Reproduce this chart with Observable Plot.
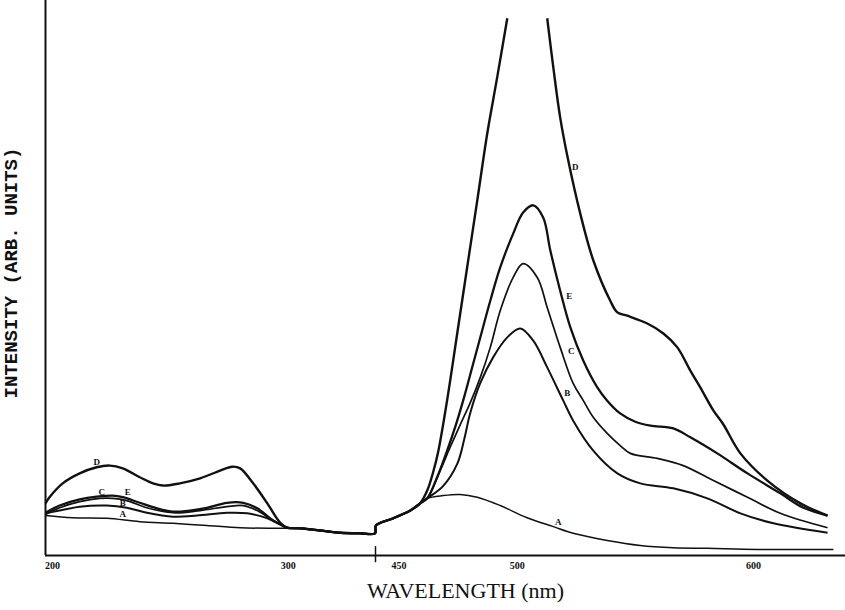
<!DOCTYPE html>
<html><head><meta charset="utf-8">
<script src="https://cdn.jsdelivr.net/npm/d3@7"></script>
<script src="https://cdn.jsdelivr.net/npm/@observablehq/plot@0.6"></script>
<style>body{margin:0;background:#fff}</style>
</head><body><div id="chart"></div>
<script>
// Broken wavelength axis: 197–337 nm, then 440–639 nm
const xBreakDomain = [197, 337, 440, 639];
const xTicks = [200, 300, 450, 500, 600];

// shared baseline between the two sections (all curves merge here)
const tailWave = [305.1, 313.6, 322.1, 330.6, 336.8, 440.2, 447.5, 454.7, 458.9];
const tailInt  = [4.9, 4.5, 4.1, 4.0, 4.0, 5.4, 6.7, 8.1, 9.4];

// Curve A
const aLeftWave  = [197, 208.5, 223, 237, 251.1, 265.5, 279.6, 293.6, 299.6];
const aLeftInt   = [7.2, 6.8, 6.7, 6.1, 5.8, 5.4, 5.0, 4.9, 4.9];
const aRightWave = [461.9, 468.6, 475.8, 483.1, 492.8, 504.2, 515.3, 523.7, 538.1, 552.1, 566.1, 580.5, 601.7, 633.9];
const aRightInt  = [10.3, 10.8, 11.0, 10.5, 9.0, 6.8, 5.2, 4.0, 2.7, 1.8, 1.4, 1.3, 1.1, 1.1];

// Curve B
const bLeftWave  = [197, 203, 211.5, 223, 231.5, 240, 251.1, 261.3, 274, 282.6, 291.1, 296.6, 299.6];
const bLeftInt   = [7.6, 8.1, 8.8, 9.0, 8.6, 7.7, 7.0, 7.2, 7.7, 7.6, 6.7, 5.6, 5.0];
const bRightWave = [461.9, 468.6, 474.6, 477.6, 480.0, 484.3, 489.8, 495.8, 501.3, 506.8, 512.7, 519.5, 523.7, 532.2, 542.4, 552.1, 566.1, 580.5, 594.5, 608.5, 631.4];
const bRightInt  = [10.3, 12.5, 16.5, 21.0, 25.5, 31.0, 35.7, 39.3, 40.9, 38.7, 33.9, 27.9, 24.3, 18.9, 14.8, 13.0, 12.1, 10.3, 7.6, 5.8, 4.1];

// Curve C
const cLeftWave  = [197, 203, 211.5, 220, 225.5, 231.5, 240, 251.1, 262.6, 274, 280.9, 286.8, 293.6, 297.9, 299.6];
const cLeftInt   = [7.4, 8.6, 9.7, 10.3, 10.3, 9.9, 8.6, 7.7, 8.1, 8.8, 9.0, 8.1, 6.3, 5.4, 5.0];
const cRightWave = [461.9, 467.4, 471.6, 475.8, 480.1, 484.3, 488.6, 492.8, 498.3, 502.5, 508.5, 512.7, 518.2, 523.7, 528, 532.2, 538.1, 543.6, 547.9, 559.3, 570.3, 583.1, 597.5, 611.4, 631.4];
const cRightInt  = [10.3, 15.3, 19.5, 23.5, 27.5, 32.0, 37.5, 44.1, 50.1, 52.6, 50.1, 44.7, 37.5, 31.0, 27.9, 24.9, 22.0, 19.8, 18.4, 17.5, 16.2, 13.5, 10.5, 7.6, 5.0];

// Curve E
const eLeftWave  = [197, 203, 211.5, 218.7, 225.5, 229.8, 237, 244.3, 251.1, 258.3, 265.5, 274, 280.9, 286.8, 293.6, 297.4, 299.6];
const eLeftInt   = [7.7, 9.0, 10.1, 10.6, 10.8, 10.5, 9.5, 8.5, 7.9, 8.1, 8.6, 9.5, 9.5, 8.5, 6.3, 5.4, 5.0];
const eRightWave = [461.9, 466, 470, 474, 477.5, 481, 484.5, 488.6, 492.8, 498.3, 502.5, 506.8, 511, 514, 518.2, 522.5, 528, 533.9, 538.1, 543.6, 550, 556.4, 566.1, 573.3, 584.7, 597.5, 611.4, 621.2, 631.4];
const eRightInt  = [10.3, 14.0, 18.5, 23.5, 28.5, 34.0, 39.5, 45.9, 51.9, 58.0, 61.8, 63.1, 60.9, 55.0, 47.7, 41.1, 35.1, 30.3, 27.9, 25.6, 24.1, 23.4, 22.9, 21.3, 18.4, 14.8, 11.2, 8.6, 7.2];

// Curve D (goes off scale at its peak: null = gap)
const dLeftWave  = [197, 198.7, 204.3, 211.5, 218.7, 224.3, 229.8, 237, 242.6, 246.8, 254, 262.6, 271.1, 276.2, 279.6, 285.1, 291.1, 296.6, 299.6];
const dLeftInt   = [9.4, 10.5, 13.0, 14.8, 15.9, 16.2, 15.7, 14.1, 13.0, 12.6, 13.0, 13.9, 15.3, 16.0, 15.7, 13.0, 9.4, 5.9, 5.0];
const dRightWave = [461.9, 464.4, 466.5, 470.3, 474.6, 478.8, 483.1, 487.3, 491.5, 495.8, 504, 512.7, 515.3, 518.2, 521.6, 526.7, 532.2, 539.4, 542.4, 546.6, 555.1, 561.9, 567.8, 573.3, 577.5, 583.1, 587.3, 594.5, 605.9, 619.9, 631.4];
const dRightInt  = [11.7, 15.0, 18.6, 27.9, 40.0, 51.9, 64.0, 76.0, 86.1, 96.8, null, 96.8, 87.9, 78.9, 71.2, 61.6, 53.2, 45.9, 43.8, 43.2, 41.8, 40.0, 37.5, 33.3, 30.3, 26.1, 23.6, 18.4, 13.5, 9.4, 7.2];

// curve letter labels
const labelText = ["D", "C", "E", "B", "A", "D", "E", "C", "B", "A"];
const labelWave = [218.7, 220.9, 231.9, 229.8, 229.8, 524.6, 522.0, 522.9, 521.2, 517.4];
const labelInt  = [16.9, 11.4, 11.4, 9.4, 7.4, 69.9, 46.8, 36.9, 29.2, 6.1];

const seriesDefs = [
  {name: "A", lw: aLeftWave, li: aLeftInt, rw: aRightWave, ri: aRightInt, sw: 1.5},
  {name: "B", lw: bLeftWave, li: bLeftInt, rw: bRightWave, ri: bRightInt, sw: 2},
  {name: "C", lw: cLeftWave, li: cLeftInt, rw: cRightWave, ri: cRightInt, sw: 1.7},
  {name: "E", lw: eLeftWave, li: eLeftInt, rw: eRightWave, ri: eRightInt, sw: 2.3},
  {name: "D", lw: dLeftWave, li: dLeftInt, rw: dRightWave, ri: dRightInt, sw: 2.4}
];

const rows = [];
for (const s of seriesDefs) {
  const w = [...s.lw, ...tailWave, ...s.rw];
  const v = [...s.li, ...tailInt, ...s.ri];
  w.forEach((x, i) => rows.push({series: s.name, wavelength: x, intensity: v[i]}));
}
const labels = labelText.map((t, i) => ({t, x: labelWave[i], y: labelInt[i]}));

const lineMarks = seriesDefs.map(s =>
  Plot.line(rows.filter(r => r.series === s.name), {
    x: "wavelength", y: "intensity", stroke: "#111", strokeWidth: s.sw,
    curve: "catmull-rom", strokeLinejoin: "round", strokeLinecap: "butt"
  })
);

const chart = Plot.plot({
  width: 845,
  height: 610,
  marginLeft: 45,
  marginRight: 0,
  marginTop: 0,
  marginBottom: 55,
  style: {fontFamily: "'Liberation Serif', serif", fontSize: "10px", fontWeight: "bold", background: "#fff", color: "#111"},
  x: {type: "linear", domain: xBreakDomain, range: [45, 375, 375, 845], ticks: xTicks, tickSize: 0, tickPadding: 6, tickFormat: d => String(d), label: null},
  y: {domain: [0, 100], range: [555, 0], axis: null},
  marks: [
    Plot.ruleY([0], {stroke: "#111", strokeWidth: 2}),
    Plot.ruleX([197], {y1: 0, y2: 100, stroke: "#111", strokeWidth: 2}),
    Plot.ruleX([337], {y1: -1.3, y2: 1.6, stroke: "#111", strokeWidth: 1.5}),
    ...lineMarks,
    Plot.text(labels, {x: "x", y: "y", text: "t", fontSize: 9, fontWeight: "bold", fill: "#111"}),
    Plot.text(["WAVELENGTH (nm)"], {frameAnchor: "bottom", dx: 20, dy: 42, fontSize: 22, fontWeight: "normal", fill: "#111"}),
    Plot.text(["INTENSITY (ARB. UNITS)"], {frameAnchor: "left", textAnchor: "middle", dx: -35, dy: -5, rotate: -90, fontSize: 19, fontWeight: "bold", fontFamily: "'Liberation Mono', monospace", fill: "#111"})
  ]
});
document.getElementById("chart").appendChild(chart);
</script>
</body></html>
